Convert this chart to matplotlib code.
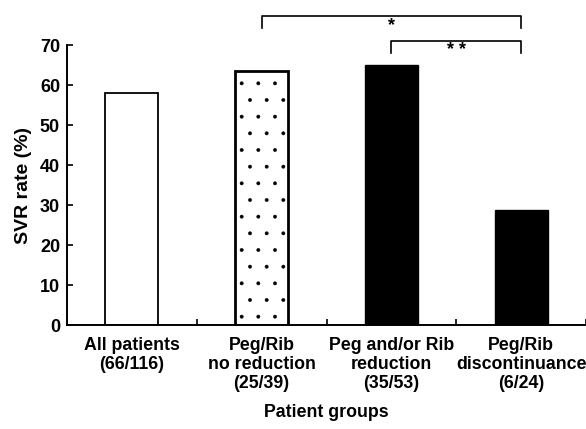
import numpy as np
import matplotlib.pyplot as plt

# data
groups = ['All patients\n(66/116)', 'Peg/Rib\nno reduction\n(25/39)',
          'Peg and/or Rib\nreduction\n(35/53)', 'Peg/Rib\ndiscontinuance\n(6/24)']
svr_rate = [58.0, 63.6, 65.0, 28.7]
y_ticks = [0, 10, 20, 30, 40, 50, 60, 70]

plt.rcParams['font.family'] = ['Liberation Sans', 'DejaVu Sans']
plt.rcParams['font.weight'] = 'bold'
plt.rcParams['axes.labelweight'] = 'bold'
plt.rcParams['hatch.linewidth'] = 0.3
plt.rcParams['hatch.color'] = '#444444'

fig = plt.figure(figsize=(5.86, 4.29), dpi=100)
ax = fig.add_axes([67 / 586, 1 - 325 / 429, 1 - 67 / 586, (325 - 45) / 429])

x = np.arange(len(groups))
faces = ['white', 'white', 'black', 'black']
hatches = [None, '.', None, None]
widths = [1.3, 2.0, 1.0, 1.0]
for i in x:
    ax.bar(x[i], svr_rate[i], width=0.41, color=faces[i], edgecolor='black',
           linewidth=widths[i], hatch=hatches[i])

ax.set_xlim(-0.5, 3.5)
ax.set_ylim(0, 70)
ax.set_yticks(y_ticks)
ax.tick_params(axis='y', direction='in', length=4, width=1.2, labelsize=13, pad=5)

# category labels under the bars, ticks between them
ax.set_xticks(x)
ax.set_xticklabels(groups, fontsize=12.8, linespacing=1.12)
ax.tick_params(axis='x', which='major', length=0, pad=9)
ax.set_xticks(x + 0.5, minor=True)
ax.tick_params(axis='x', which='minor', direction='in', length=4, width=1.2)

for s in ['top', 'right']:
    ax.spines[s].set_visible(False)
ax.spines['left'].set_linewidth(1.4)
ax.spines['bottom'].set_linewidth(1.4)

ax.set_ylabel('SVR rate (%)', fontsize=14, labelpad=6)
ax.set_xlabel('Patient groups', fontsize=12.8, labelpad=9)

# significance brackets
def bracket(x1, x2, y, drop, label, ty):
    ax.plot([x1, x1, x2, x2], [y - drop, y, y, y - drop], color='black',
            lw=1.2, clip_on=False)
    ax.text((x1 + x2) / 2, ty, label, ha='center', va='center', fontsize=13,
            clip_on=False)

bracket(1, 3, 77.3, 3.0, '*', 74.9)
bracket(2, 3, 71.1, 3.0, '* *', 68.7)

fig.savefig('out.png', dpi=100)
